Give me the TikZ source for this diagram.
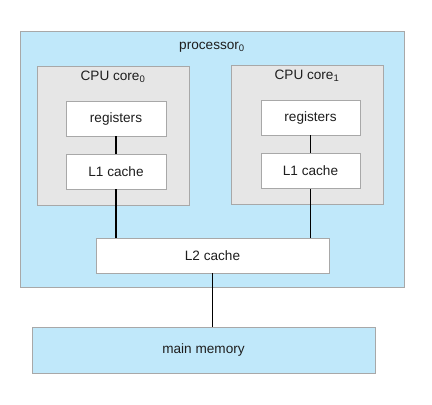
\documentclass[tikz,border=0pt]{standalone}
\usepackage{fontspec}
\setmainfont{Liberation Sans}
\begin{document}
\definecolor{procblue}{HTML}{C0E8FA}
\definecolor{coregray}{HTML}{E6E6E6}
\definecolor{edgegray}{HTML}{A8A8A8}
\definecolor{txt}{HTML}{1E1E1E}
\begin{tikzpicture}[x=1pt,y=-1pt,
  font=\fontsize{13.6}{16}\selectfont, text=txt,
  box/.style={draw=edgegray, line width=0.9pt},
  link/.style={draw=black, line width=1.4pt}]
\useasboundingbox (0,0) rectangle (432,405);
% processor package
\path[box, fill=procblue] (20,31) rectangle (404,287);
\node (proc) at (212,47) {processor\textsubscript{0}};
% core 0
\path[box, fill=coregray] (37,66) rectangle (189,205);
\node (c0) at (113,77) {CPU core\textsubscript{0}};
\node[box, fill=white, minimum width=100, minimum height=35, inner sep=0pt] (r0) at (116,118.5) {registers};
\node[box, fill=white, minimum width=100, minimum height=35, inner sep=0pt] (l0) at (116,171.5) {L1 cache};
% core 1
\path[box, fill=coregray] (231,65) rectangle (383,204);
\node (c1) at (307,76) {CPU core\textsubscript{1}};
\node[box, fill=white, minimum width=99, minimum height=35, inner sep=0pt] (r1) at (310.5,117.5) {registers};
\node[box, fill=white, minimum width=99, minimum height=35, inner sep=0pt] (l1) at (310.5,171) {L1 cache};
% shared L2
\node[box, fill=white, minimum width=233, minimum height=35, inner sep=0pt] (l2) at (212.5,255.5) {L2 cache};
% memory
\node[box, fill=procblue, minimum width=343, minimum height=46, inner sep=0pt] (mem) at (203.5,350) {main memory};
% connectors
\draw[link] (r0.south) -- (l0.north);
\draw[link] (r1.south) -- (l1.north);
\draw[link] (l0.south) -- (l0.south |- l2.north);
\draw[link] (l1.south) -- (l1.south |- l2.north);
\draw[link] (l2.south) -- (l2.south |- mem.north);
\end{tikzpicture}
\end{document}
